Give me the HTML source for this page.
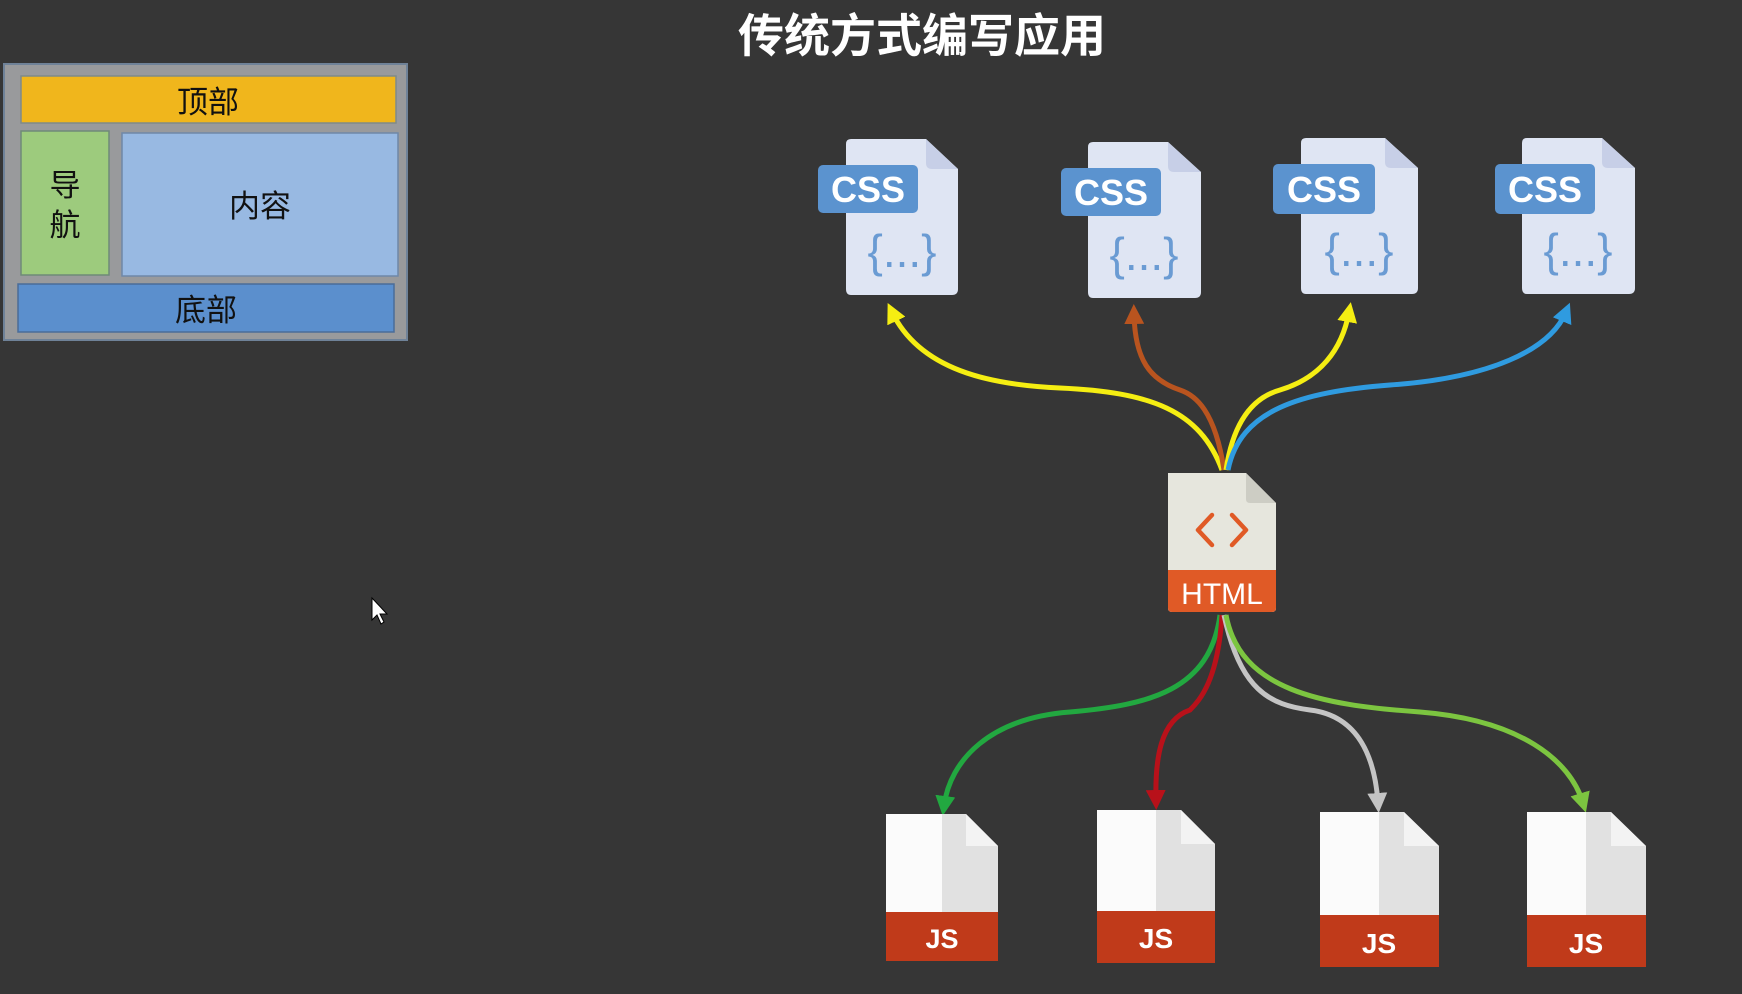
<!DOCTYPE html>
<html><head><meta charset="utf-8"><style>
html,body{margin:0;padding:0;background:#363636;}
svg{display:block}
</style></head><body>
<svg width="1742" height="994" viewBox="0 0 1742 994" xmlns="http://www.w3.org/2000/svg" font-family="'Liberation Sans','Noto Sans CJK SC',sans-serif">
<rect width="1742" height="994" fill="#363636"/>
<text x="922" y="52" text-anchor="middle" font-size="46" font-weight="bold" fill="#fff">传统方式编写应用</text>

<!-- layout panel -->
<rect x="4" y="64" width="403" height="276" fill="#999a9c" stroke="#6f8298" stroke-width="2"/>
<rect x="21" y="76" width="375" height="47" fill="#f0b61c" stroke="#7f8a8a" stroke-width="1.5"/>
<text x="208" y="113" text-anchor="middle" font-size="31" fill="#111">顶部</text>
<rect x="21" y="131" width="88" height="144" fill="#9dcb7d" stroke="#6f8a78" stroke-width="1.5"/>
<text x="65" y="196" text-anchor="middle" font-size="31" fill="#111">导</text>
<text x="65" y="236" text-anchor="middle" font-size="31" fill="#111">航</text>
<rect x="122" y="133" width="276" height="143" fill="#98b9e2" stroke="#6f88a8" stroke-width="1.5"/>
<text x="260" y="217" text-anchor="middle" font-size="31" fill="#111">内容</text>
<rect x="18" y="284" width="376" height="48" fill="#5b8fcd" stroke="#4a6c98" stroke-width="1.5"/>
<text x="206" y="321" text-anchor="middle" font-size="31" fill="#111">底部</text>

<!-- cursor -->
<path d="M372 598 L372 620 L377 615 L381 624 L384 622 L380 614 L387 614 Z" fill="#fff" stroke="#000" stroke-width="1"/>

<defs>
<marker id="mY" markerWidth="4" markerHeight="4" refX="2" refY="2" orient="auto" markerUnits="strokeWidth"><path d="M0,0 L4,2 L0,4 Z" fill="#f5ee12"/></marker>
<marker id="mB" markerWidth="4" markerHeight="4" refX="2" refY="2" orient="auto" markerUnits="strokeWidth"><path d="M0,0 L4,2 L0,4 Z" fill="#b9541f"/></marker>
<marker id="mU" markerWidth="4" markerHeight="4" refX="2" refY="2" orient="auto" markerUnits="strokeWidth"><path d="M0,0 L4,2 L0,4 Z" fill="#2f9be0"/></marker>
<marker id="mG" markerWidth="4" markerHeight="4" refX="2" refY="2" orient="auto" markerUnits="strokeWidth"><path d="M0,0 L4,2 L0,4 Z" fill="#22a840"/></marker>
<marker id="mR" markerWidth="4" markerHeight="4" refX="2" refY="2" orient="auto" markerUnits="strokeWidth"><path d="M0,0 L4,2 L0,4 Z" fill="#b8111a"/></marker>
<marker id="mW" markerWidth="4" markerHeight="4" refX="2" refY="2" orient="auto" markerUnits="strokeWidth"><path d="M0,0 L4,2 L0,4 Z" fill="#c4c4c4"/></marker>
<marker id="mL" markerWidth="4" markerHeight="4" refX="2" refY="2" orient="auto" markerUnits="strokeWidth"><path d="M0,0 L4,2 L0,4 Z" fill="#7cc540"/></marker>
</defs>

<!-- arrows up -->
<g fill="none" stroke-width="5">
<path d="M1222 470 C1200 410 1150 392 1060 388 C990 385 920 370 892 312" stroke="#f5ee12" marker-end="url(#mY)"/>
<path d="M1224 470 C1215 410 1195 395 1180 390 C1150 380 1135 360 1134 314" stroke="#b9541f" marker-end="url(#mB)"/>
<path d="M1226 470 C1235 410 1262 395 1280 390 C1320 378 1342 350 1349 312" stroke="#f5ee12" marker-end="url(#mY)"/>
<path d="M1228 470 C1240 410 1300 392 1390 385 C1490 378 1550 350 1566 312" stroke="#2f9be0" marker-end="url(#mU)"/>
</g>
<!-- arrows down -->
<g fill="none" stroke-width="5">
<path d="M1220 615 C1210 690 1150 705 1070 712 C990 718 950 760 944 806" stroke="#22a840" marker-end="url(#mG)"/>
<path d="M1222 615 C1218 680 1200 700 1190 710 C1160 720 1155 760 1156 800" stroke="#b8111a" marker-end="url(#mR)"/>
<path d="M1224 615 C1240 690 1270 705 1310 710 C1360 716 1375 760 1378 803" stroke="#c4c4c4" marker-end="url(#mW)"/>
<path d="M1226 615 C1240 690 1320 705 1420 712 C1520 720 1570 760 1583 803" stroke="#7cc540" marker-end="url(#mL)"/>
</g>

<!-- CSS icons -->
<g transform="translate(846,139)">
<path d="M5 0 H80 L112 30 V150 Q112 156 106 156 H5 Q0 156 0 150 V5 Q0 0 5 0Z" fill="#dfe5f3"/>
<path d="M80 0 L112 30 H86 Q80 30 80 24Z" fill="#c7cfe7"/>
<rect x="-28" y="26" width="100" height="48" rx="5" fill="#5b93cf"/>
<text x="22" y="63" text-anchor="middle" font-size="36" font-weight="bold" fill="#fff">CSS</text>
<text x="56" y="128" text-anchor="middle" font-size="46" fill="#6a9bd3">{...}</text>
</g>
<g transform="translate(1088,142)">
<path d="M5 0 H80 L113 30 V150 Q113 156 107 156 H5 Q0 156 0 150 V5 Q0 0 5 0Z" fill="#dfe5f3"/>
<path d="M80 0 L113 30 H86 Q80 30 80 24Z" fill="#c7cfe7"/>
<rect x="-27" y="26" width="100" height="48" rx="5" fill="#5b93cf"/>
<text x="23" y="63" text-anchor="middle" font-size="36" font-weight="bold" fill="#fff">CSS</text>
<text x="56" y="128" text-anchor="middle" font-size="46" fill="#6a9bd3">{...}</text>
</g>
<g transform="translate(1301,138)">
<path d="M5 0 H84 L117 30 V150 Q117 156 111 156 H5 Q0 156 0 150 V5 Q0 0 5 0Z" fill="#dfe5f3"/>
<path d="M84 0 L117 30 H90 Q84 30 84 24Z" fill="#c7cfe7"/>
<rect x="-28" y="26" width="102" height="50" rx="5" fill="#5b93cf"/>
<text x="23" y="64" text-anchor="middle" font-size="36" font-weight="bold" fill="#fff">CSS</text>
<text x="58" y="128" text-anchor="middle" font-size="46" fill="#6a9bd3">{...}</text>
</g>
<g transform="translate(1522,138)">
<path d="M5 0 H80 L113 30 V150 Q113 156 107 156 H5 Q0 156 0 150 V5 Q0 0 5 0Z" fill="#dfe5f3"/>
<path d="M80 0 L113 30 H86 Q80 30 80 24Z" fill="#c7cfe7"/>
<rect x="-27" y="26" width="100" height="50" rx="5" fill="#5b93cf"/>
<text x="23" y="64" text-anchor="middle" font-size="36" font-weight="bold" fill="#fff">CSS</text>
<text x="56" y="128" text-anchor="middle" font-size="46" fill="#6a9bd3">{...}</text>
</g>

<!-- HTML icon -->
<g transform="translate(1168,473)">
<path d="M0 0 H78 L108 30 V135 Q108 139 104 139 H4 Q0 139 0 135Z" fill="#e6e6dd"/>
<path d="M78 0 L108 30 H82 Q78 30 78 26Z" fill="#cdcdc4"/>
<path d="M0 97 H108 V135 Q108 139 104 139 H4 Q0 139 0 135Z" fill="#e05a26"/>
<path d="M44 42 L30 57 L44 72 M64 42 L78 57 L64 72" fill="none" stroke="#e05a26" stroke-width="4.5" stroke-linecap="round" stroke-linejoin="round"/>
<text x="54" y="131" text-anchor="middle" font-size="30" fill="#fff">HTML</text>
</g>

<!-- JS icons -->
<g transform="translate(886,814)">
<rect x="0" y="0" width="56" height="100" fill="#fbfbfb"/>
<path d="M56 0 H80 L112 32 V100 H56Z" fill="#e1e1e1"/>
<path d="M80 0 L112 32 H80Z" fill="#f3f3f3"/>
<rect x="0" y="98" width="112" height="49" fill="#c03a1a"/>
<text x="56" y="134" text-anchor="middle" font-size="27" font-weight="bold" fill="#fff">JS</text>
</g>
<g transform="translate(1097,810)">
<rect x="0" y="0" width="59" height="102" fill="#fbfbfb"/>
<path d="M59 0 H84 L118 34 V102 H59Z" fill="#e1e1e1"/>
<path d="M84 0 L118 34 H84Z" fill="#f3f3f3"/>
<rect x="0" y="101" width="118" height="52" fill="#c03a1a"/>
<text x="59" y="138" text-anchor="middle" font-size="28" font-weight="bold" fill="#fff">JS</text>
</g>
<g transform="translate(1320,812)">
<rect x="0" y="0" width="59" height="104" fill="#fbfbfb"/>
<path d="M59 0 H84 L119 34 V104 H59Z" fill="#e1e1e1"/>
<path d="M84 0 L119 34 H84Z" fill="#f3f3f3"/>
<rect x="0" y="103" width="119" height="52" fill="#c03a1a"/>
<text x="59" y="141" text-anchor="middle" font-size="28" font-weight="bold" fill="#fff">JS</text>
</g>
<g transform="translate(1527,812)">
<rect x="0" y="0" width="59" height="104" fill="#fbfbfb"/>
<path d="M59 0 H84 L119 34 V104 H59Z" fill="#e1e1e1"/>
<path d="M84 0 L119 34 H84Z" fill="#f3f3f3"/>
<rect x="0" y="103" width="119" height="52" fill="#c03a1a"/>
<text x="59" y="141" text-anchor="middle" font-size="28" font-weight="bold" fill="#fff">JS</text>
</g>
</svg>
</body></html>
